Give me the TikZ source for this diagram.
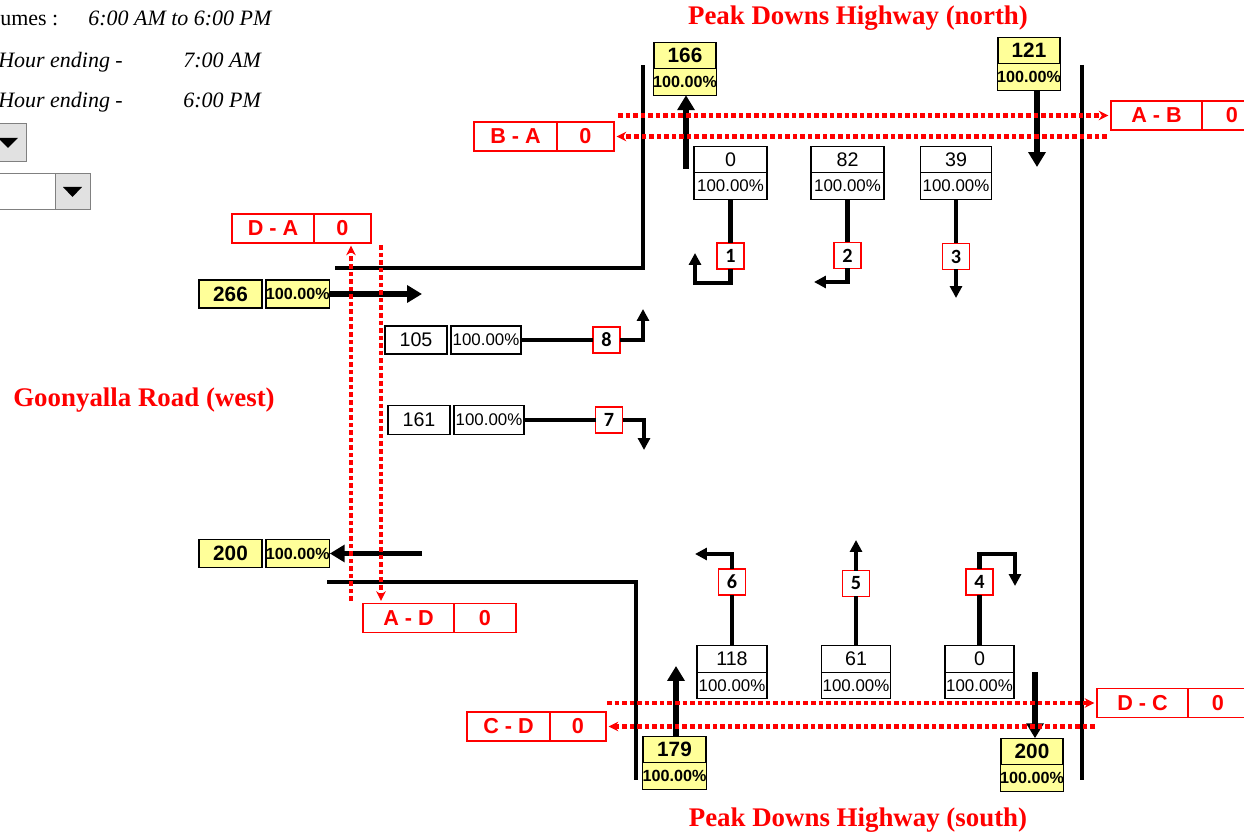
\documentclass[tikz,border=0pt]{standalone}
\usepackage{fontspec}
\setmainfont{Liberation Serif}
\setsansfont{Liberation Sans}
\newfontfamily\calfont{Carlito}
\usepackage{tikz}
\usetikzlibrary{arrows.meta,positioning}
\definecolor{Tag}{HTML}{FF0000}
\definecolor{Note}{HTML}{FFFF99}
\definecolor{Pick}{HTML}{E1E1E1}

\begin{document}
\begin{tikzpicture}[x=0.02cm,y=-0.02cm,
  road/.style={line width=2.8pt},
  flow/.style={line width=3pt,-{Triangle[length=8.5pt,width=9.6pt]}},
  turn/.style={line width=2.3pt},
  turnar/.style={turn,-{Triangle[length=6.8pt,width=6.8pt]}},
  chk/.style={Tag,line width=2.4pt,dash pattern=on 2.6pt off 1.7pt,shorten >=1.5pt,-{Stealth[length=5.5pt,width=5.5pt]}},
  cnt/.style={draw,fill=white,line width=0.6pt,outer sep=0pt,inner sep=0pt,minimum height=0.53cm,font=\sffamily\fontsize{11.2}{12}\selectfont},
  pct/.style={cnt,font=\sffamily\fontsize{9.6}{11}\selectfont},
  ycnt/.style={cnt,fill=Note,font=\sffamily\bfseries\fontsize{11.8}{13}\selectfont},
  ypct/.style={cnt,fill=Note,font=\sffamily\bfseries\fontsize{9.2}{11}\selectfont},
  mv/.style={draw=Tag,fill=white,line width=0.6pt,outer sep=0pt,inner sep=0pt,minimum width=0.54cm,minimum height=0.52cm,font=\calfont\bfseries\fontsize{11.5}{12}\selectfont},
  od/.style={draw=Tag,text=Tag,line width=0.6pt,outer sep=0pt,inner sep=0pt,minimum height=0.58cm,font=\sffamily\bfseries\fontsize{12.3}{13}\selectfont},
  title/.style={text=Tag,font=\bfseries\fontsize{15.3}{17}\selectfont},
  hdr/.style={anchor=base west,inner sep=0pt,font=\fontsize{12.5}{14}\selectfont},
  hdri/.style={hdr,font=\itshape\fontsize{12.5}{14}\selectfont}]
\useasboundingbox (0,0) rectangle (1244,837);
\clip (0,0) rectangle (1244,837);

% header
\node[hdr] (vol) at (0,26) {umes :};
\node[hdri] (span) at (88,26) {6:00 AM to 6:00 PM};
\node[hdri] (hr1) at (-2,68) {Hour ending -};
\node[hdri] (tm1) at (183,68) {7:00 AM};
\node[hdri] (hr2) at (-2,108) {Hour ending -};
\node[hdri] (tm2) at (183,108) {6:00 PM};
\draw[gray,fill=Pick] (-5,123) rectangle (26,161);
\fill (-2,138) -- (18,138) -- (8,148) -- cycle;
\draw[gray,fill=white] (-5,173) rectangle (90,209);
\draw[gray,fill=Pick] (55,173) rectangle (90,209);
\fill (63,187) -- (82,187) -- (72.5,197) -- cycle;

% road names
\node[title] (north) at (858,18) {Peak Downs Highway (north)};
\node[title] (west) at (144,400) {Goonyalla Road (west)};
\node[title] (south) at (858,820) {Peak Downs Highway (south)};

% kerbs
\draw[road] (335,268) -| (643,65);
\draw[road] (1082,65) -- (1082,780);
\draw[road] (327,582) -| (636,780);

% approach totals
\node[ycnt,minimum width=1.24cm] (nOutC) at (685,55.5) {166};
\node[ypct,minimum width=1.24cm,below=0pt of nOutC] (nOutP) {100.00\%};
\node[ycnt,minimum width=1.24cm] (sInC) at (1029,50.5) {121};
\node[ypct,minimum width=1.24cm,below=0pt of sInC] (sInP) {100.00\%};
\node[ycnt,minimum width=1.26cm] (nInC) at (674.5,749.5) {179};
\node[ypct,minimum width=1.26cm,below=0pt of nInC] (nInP) {100.00\%};
\node[ycnt,minimum width=1.24cm] (sOutC) at (1032,751.5) {200};
\node[ypct,minimum width=1.24cm,below=0pt of sOutC] (sOutP) {100.00\%};
\node[ycnt,minimum width=1.26cm,minimum height=0.56cm] (wInC) at (230.5,294) {266};
\node[ypct,minimum width=1.22cm,minimum height=0.56cm,right=0.08cm of wInC] (wInP) {100.00\%};
\node[ycnt,minimum width=1.26cm,minimum height=0.56cm] (wOutC) at (230.5,553.5) {200};
\node[ypct,minimum width=1.24cm,minimum height=0.56cm,right=0.08cm of wOutC] (wOutP) {100.00\%};

\coordinate (nOutS) at (686,169);
\draw[flow] (nOutS) -- (nOutS |- nOutP.south);
\coordinate (sInE) at (1037,167);
\draw[flow] (sInE |- sInP.south) -- (sInE);
\coordinate (wInE) at (422,294);
\draw[flow] (wInP.east) -- (wInE);
\coordinate (wOutS) at (422,553.5);
\draw[flow] (wOutS) -- (wOutP.east);
\coordinate (nInE) at (676,666);
\draw[flow] (nInE |- nInC.north) -- (nInE);
\coordinate (sOutS) at (1035,672);
\draw[flow] (sOutS) -- (sOutS |- sOutC.north);

% turning counts
\node[cnt,minimum width=1.46cm] (c1) at (730.5,159.5) {0};
\node[pct,minimum width=1.46cm,below=0pt of c1] (p1) {100.00\%};
\node[cnt,minimum width=1.46cm] (c2) at (847.5,159.5) {82};
\node[pct,minimum width=1.46cm,below=0pt of c2] (p2) {100.00\%};
\node[cnt,minimum width=1.42cm] (c3) at (956,159.5) {39};
\node[pct,minimum width=1.42cm,below=0pt of c3] (p3) {100.00\%};
\node[cnt,minimum width=1.4cm] (c6) at (732,659) {118};
\node[pct,minimum width=1.4cm,below=0pt of c6] (p6) {100.00\%};
\node[cnt,minimum width=1.38cm] (c5) at (856,659) {61};
\node[pct,minimum width=1.38cm,below=0pt of c5] (p5) {100.00\%};
\node[cnt,minimum width=1.38cm] (c4) at (979.5,659) {0};
\node[pct,minimum width=1.38cm,below=0pt of c4] (p4) {100.00\%};
\node[cnt,minimum width=1.24cm,minimum height=0.56cm] (c8) at (416,340) {105};
\node[pct,minimum width=1.4cm,minimum height=0.56cm,right=0.08cm of c8] (p8) {100.00\%};
\node[cnt,minimum width=1.24cm,minimum height=0.58cm] (c7) at (419,420) {161};
\node[pct,minimum width=1.4cm,minimum height=0.58cm,right=0.08cm of c7] (p7) {100.00\%};

\coordinate (t1) at (695,253);
\coordinate (t2) at (814,282);
\coordinate (t3) at (956,298);
\coordinate (t8) at (643,309);
\coordinate (t7) at (644,450);
\coordinate (t6) at (695,554);
\coordinate (t5) at (856,540);
\coordinate (t4) at (1015,586);

\node[mv] (m1) at (730.5,256) {1};
\node[mv] (m2) at (847.5,255.5) {2};
\node[mv] (m3) at (956,256.5) {3};
\node[mv] (m8) at (606.5,340) {8};
\node[mv] (m7) at (609,420) {7};
\node[mv] (m6) at (732,582) {6};
\node[mv] (m5) at (856,583.5) {5};
\node[mv] (m4) at (979.5,582) {4};

\draw[turn] (p1) -- (m1);
\draw[turnar] (m1.south) -- ++(0,14) -| (t1);
\draw[turn] (p2) -- (m2);
\draw[turnar] (m2.south) |- (t2);
\draw[turn] (p3) -- (m3);
\draw[turnar] (m3) -- (t3);
\draw[turn] (p8) -- (m8);
\draw[turnar] (m8.east) -| (t8);
\draw[turn] (p7) -- (m7);
\draw[turnar] (m7.east) -| (t7);
\draw[turn] (c6) -- (m6);
\draw[turnar] (m6.north) |- (t6);
\draw[turn] (c5) -- (m5);
\draw[turnar] (m5) -- (t5);
\draw[turn] (c4) -- (m4);
\draw[turnar] (m4.north) -- ++(0,-15) -| (t4);

% through checks
\node[od,minimum width=1.66cm] (baL) at (515.5,136.5) {B - A};
\node[od,minimum width=1.14cm,right=0pt of baL] (baV) {0};
\node[od,minimum width=1.82cm] (abL) at (1156.5,115.5) {A - B};
\node[od,minimum width=1.2cm,right=0pt of abL] (abV) {0};
\node[od,minimum width=1.64cm] (daL) at (273,228.5) {D - A};
\node[od,minimum width=1.14cm,right=0pt of daL] (daV) {0};
\node[od,minimum width=1.82cm] (adL) at (408.5,618) {A - D};
\node[od,minimum width=1.24cm,right=0pt of adL] (adV) {0};
\node[od,minimum width=1.66cm] (cdL) at (508.5,726.5) {C - D};
\node[od,minimum width=1.12cm,right=0pt of cdL] (cdV) {0};
\node[od,minimum width=1.82cm] (dcL) at (1142.5,703) {D - C};
\node[od,minimum width=1.2cm,right=0pt of dcL] (dcV) {0};

\coordinate (abS) at (618,115.5);
\draw[chk] (abS) -- (abL.west);
\coordinate (baS) at (1107,136.5);
\draw[chk] (baS) -- (baV.east);
\coordinate (daS) at (351,601);
\draw[chk] (daS) -- (daS |- daV.south);
\coordinate (adS) at (381,245);
\draw[chk] (adS) -- (adS |- adL.north);
\coordinate (dcS) at (607,703);
\draw[chk] (dcS) -- (dcL.west);
\coordinate (cdS) at (1095,726.5);
\draw[chk] (cdS) -- (cdV.east);
\end{tikzpicture}
\end{document}
